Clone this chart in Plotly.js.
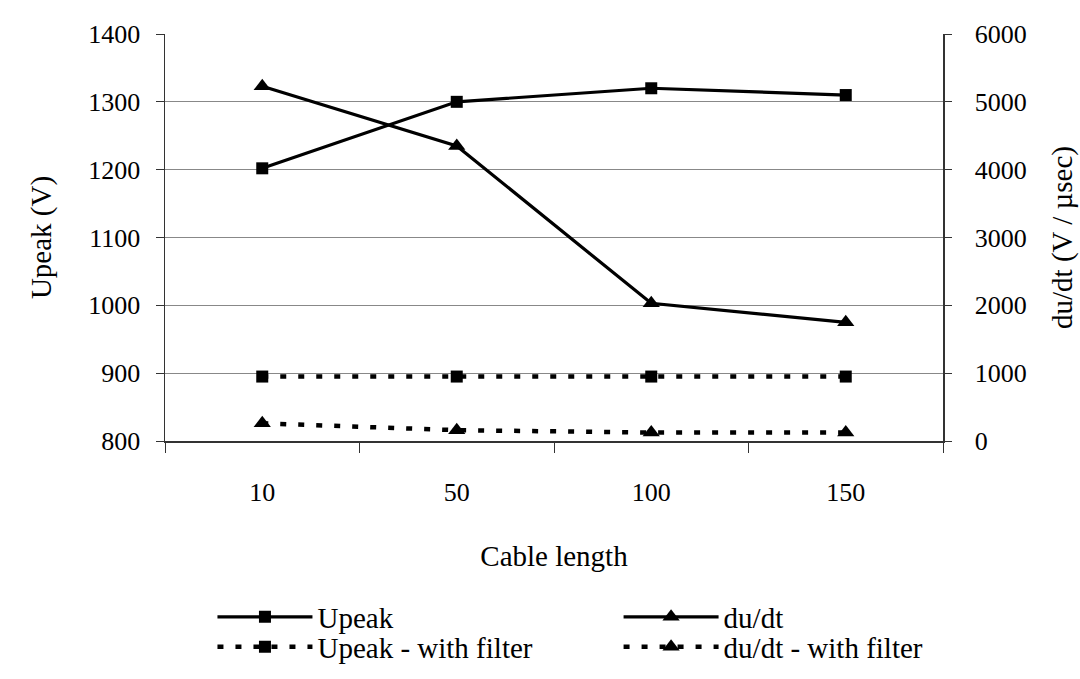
<!DOCTYPE html>
<html>
<head>
<meta charset="utf-8">
<script src="https://cdn.plot.ly/plotly-3.0.1.min.js"></script>
<style>html,body{margin:0;padding:0;background:#fff;}#chart{width:1080px;height:679px;}</style>
</head>
<body>
<div id="chart"></div>
<script>
const categories = ['10', '50', '100', '150'];
const upeak = [1202, 1300, 1320, 1310];
const dudt = [5230, 4350, 2030, 1750];
const upeakFilter = [895, 895, 895, 895];
const dudtFilter = [260, 160, 125, 125];

const FONT = 'Liberation Serif, Times New Roman, serif';
const TICK = 26, BIG = 29;

const traces = [
  {x: categories, y: upeak, name: 'Upeak', type: 'scatter', mode: 'lines+markers',
   line: {color: '#000', width: 3.2}, marker: {symbol: 'square', size: 12, color: '#000'},
   legend: 'legend', yaxis: 'y'},
  {x: categories, y: dudt, name: 'du/dt', type: 'scatter', mode: 'lines+markers',
   line: {color: '#000', width: 3.2}, marker: {symbol: 'triangle-up', size: 15, color: '#000'},
   legend: 'legend2', yaxis: 'y2'},
  {x: categories, y: upeakFilter, name: 'Upeak - with filter', type: 'scatter', mode: 'lines+markers',
   line: {color: '#000', width: 4.5, dash: '6px,12px'}, marker: {symbol: 'square', size: 12, color: '#000'},
   legend: 'legend3', yaxis: 'y'},
  {x: categories, y: dudtFilter, name: 'du/dt - with filter', type: 'scatter', mode: 'lines+markers',
   line: {color: '#000', width: 4.5, dash: '6px,12px'}, marker: {symbol: 'triangle-up', size: 15, color: '#000'},
   legend: 'legend4', yaxis: 'y2'}
];

function leg(x, y) {
  return {x: x, y: y, xanchor: 'left', yanchor: 'middle', orientation: 'v', itemwidth: 95,
          bgcolor: 'rgba(0,0,0,0)', font: {family: FONT, size: BIG, color: '#000'}};
}

const layout = {
  width: 1080, height: 679,
  paper_bgcolor: '#fff', plot_bgcolor: '#fff',
  font: {family: FONT, size: TICK, color: '#000'},
  margin: {l: 165, r: 137, t: 34, b: 238, autoexpand: false},
  showlegend: true,
  xaxis: {
    type: 'category', range: [-0.5, 3.5], automargin: false, tickangle: 0,
    tickson: 'boundaries', ticks: 'outside', ticklen: 10, tickcolor: '#333', tickwidth: 1,
    showline: true, linecolor: '#333', linewidth: 1.5,
    showgrid: false, zeroline: false,
    tickfont: {family: FONT, size: TICK},
    ticklabelstandoff: 27,
    title: {text: 'Cable length', font: {family: FONT, size: BIG}, standoff: 40}
  },
  yaxis: {
    range: [800, 1400], dtick: 100, tick0: 800, automargin: false,
    ticks: 'outside', ticklen: 8, tickcolor: '#333',
    showline: true, linecolor: '#333', linewidth: 1.5,
    showgrid: true, gridcolor: '#888', gridwidth: 1.3, zeroline: false,
    tickfont: {family: FONT, size: TICK},
    ticklabelstandoff: 10,
    title: {text: 'Upeak (V)', font: {family: FONT, size: BIG}, standoff: 28}
  },
  yaxis2: {
    overlaying: 'y', side: 'right', automargin: false,
    range: [0, 6000], dtick: 1000, tick0: 0,
    ticks: 'outside', ticklen: 7, tickcolor: '#333',
    showline: true, linecolor: '#333', linewidth: 1.5,
    showgrid: false, zeroline: false,
    tickfont: {family: FONT, size: TICK},
    ticklabelstandoff: 18,
    title: {text: 'du/dt (V / µsec)', font: {family: FONT, size: BIG}, standoff: 26}
  },
  legend: leg(0.061, -0.4324),
  legend2: leg(0.583, -0.4324),
  legend3: leg(0.061, -0.506),
  legend4: leg(0.583, -0.506)
};

Plotly.newPlot('chart', traces, layout, {displayModeBar: false, staticPlot: true});
</script>
</body>
</html>
